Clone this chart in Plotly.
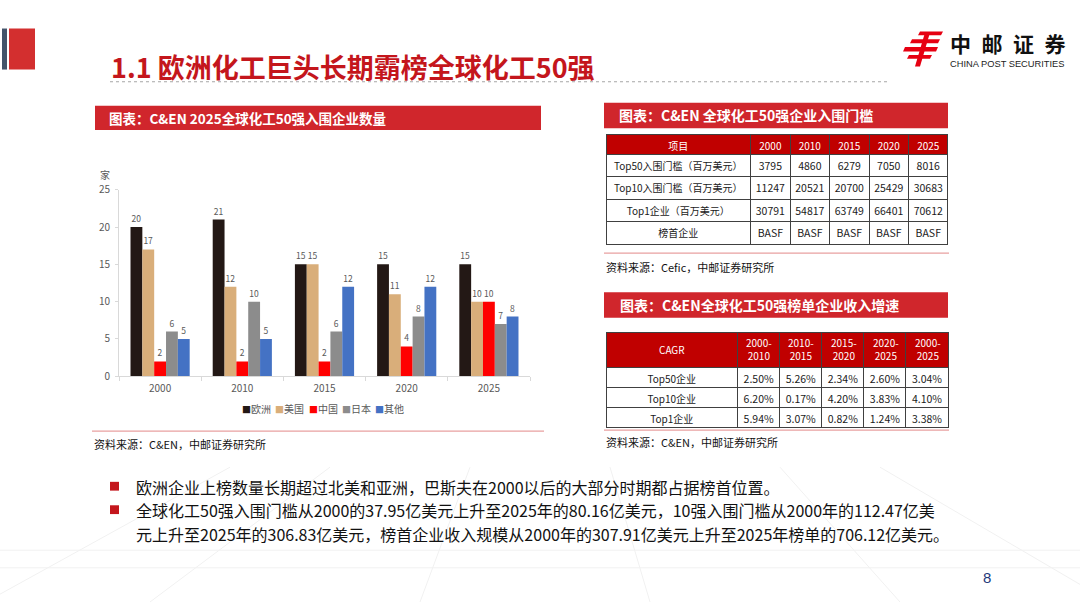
import plotly.graph_objects as go

W, H = 1080, 608
def px(x): return x / W
def py(y): return 1 - y / H

FONT = "Noto Sans CJK SC"

# ---------------- data ----------------
years = ["2000", "2010", "2015", "2020", "2025"]
regions = ["欧洲", "美国", "中国", "日本", "其他"]
europe = [20, 21, 15, 15, 15]
usa = [17, 12, 15, 11, 10]
china = [2, 2, 2, 4, 10]
japan = [6, 10, 6, 8, 7]
others = [5, 5, 12, 12, 8]
series_values = [europe, usa, china, japan, others]
series_colors = ["#231815", "#D9AE7A", "#FF0000", "#8C8C8C", "#4472C4"]

t1_header = ["项目", "2000", "2010", "2015", "2020", "2025"]
t1_items = ["Top50入围门槛（百万美元）", "Top10入围门槛（百万美元）", "Top1企业（百万美元）", "榜首企业"]
t1_2000 = ["3795", "11247", "30791", "BASF"]
t1_2010 = ["4860", "20521", "54817", "BASF"]
t1_2015 = ["6279", "20700", "63749", "BASF"]
t1_2020 = ["7050", "25429", "66401", "BASF"]
t1_2025 = ["8016", "30683", "70612", "BASF"]

t2_header = ["CAGR", "2000-<br>2010", "2010-<br>2015", "2015-<br>2020", "2020-<br>2025", "2000-<br>2025"]
t2_items = ["Top50企业", "Top10企业", "Top1企业"]
t2_p1 = ["2.50%", "6.20%", "5.94%"]
t2_p2 = ["5.26%", "0.17%", "3.07%"]
t2_p3 = ["2.34%", "4.20%", "0.82%"]
t2_p4 = ["2.60%", "3.83%", "1.24%"]
t2_p5 = ["3.04%", "4.10%", "3.38%"]

title = "1.1 欧洲化工巨头长期霸榜全球化工50强"
chart_title = "图表：C&EN 2025全球化工50强入围企业数量"
table1_title = "图表：C&EN 全球化工50强企业入围门槛"
table2_title = "图表：C&EN全球化工50强榜单企业收入增速"
src1 = "资料来源：C&EN，中邮证券研究所"
src2 = "资料来源：Cefic，中邮证券研究所"
bullets = [
    "欧洲企业上榜数量长期超过北美和亚洲，巴斯夫在2000以后的大部分时期都占据榜首位置。",
    "全球化工50强入围门槛从2000的37.95亿美元上升至2025年的80.16亿美元，10强入围门槛从2000年的112.47亿美",
    "元上升至2025年的306.83亿美元，榜首企业收入规模从2000年的307.91亿美元上升至2025年榜单的706.12亿美元。",
]

fig = go.Figure()

# ---------------- bar chart ----------------
for name, vals, col in zip(regions, series_values, series_colors):
    fig.add_trace(go.Bar(
        x=years, y=vals, name=name, marker=dict(color=col, line=dict(width=0)),
        text=[str(v) for v in vals], textposition="outside",
        textfont=dict(size=8.5, color="#595959", family=FONT),
        cliponaxis=False, showlegend=False, xaxis="x", yaxis="y",
    ))

fig.update_layout(
    barmode="group", bargap=0.28, bargroupgap=0,
    xaxis=dict(domain=[px(119), px(530)], type="category", showgrid=False,
               showline=True, linecolor="#D9D9D9", linewidth=1,
               ticks="outside", tickson="boundaries", ticklen=4, tickcolor="#D9D9D9",
               ticklabelstandoff=3,
               tickfont=dict(size=10, color="#595959", family=FONT), anchor="y"),
    yaxis=dict(domain=[py(377), py(186)], range=[0, 25], dtick=5, showgrid=False,
               showline=True, linecolor="#D9D9D9", linewidth=1,
               ticks="outside", ticklen=3, tickcolor="#D9D9D9", zeroline=False,
               ticklabelstandoff=3,
               tickfont=dict(size=10, color="#595959", family=FONT), anchor="x"),
)

# ---------------- tables ----------------
line_col = "#404040"
num_sizes = [10, 10.5, 10.5, 10.5, 10.5, 10.5]
fig.add_trace(go.Table(
    domain=dict(x=[px(606), px(949)], y=[py(258), py(129)]),
    columnwidth=[145, 39.6, 39.6, 39.6, 39.6, 39.6],
    header=dict(values=t1_header, fill_color="#C00000", height=20, align="center",
                line=dict(color=line_col, width=1),
                font=dict(color="white", size=10, family=FONT)),
    cells=dict(values=[t1_items, t1_2000, t1_2010, t1_2015, t1_2020, t1_2025],
               fill_color="white", height=22.5, align="center",
               line=dict(color=line_col, width=1),
               font=dict(color="#1a1a1a", size=num_sizes, family=FONT)),
))
t2_widths = [132, 42.2, 42.2, 42.2, 42.2, 42.2]
fig.add_trace(go.Table(
    domain=dict(x=[px(606), px(949)], y=[py(460), py(332)]),
    columnwidth=t2_widths,
    header=dict(values=[""] * len(t2_header), fill_color="#C00000", height=35, align="center",
                line=dict(color=line_col, width=1),
                font=dict(color="white", size=10, family=FONT)),
    cells=dict(values=[t2_items, t2_p1, t2_p2, t2_p3, t2_p4, t2_p5],
               fill_color="white", height=20, align="center",
               line=dict(color=line_col, width=1),
               font=dict(color="#1a1a1a", size=num_sizes, family=FONT)),
))

shapes = []
annotations = []

def rect(x0, y0, x1, y1, color):
    shapes.append(dict(type="rect", xref="paper", yref="paper",
                       x0=px(x0), x1=px(x1), y0=py(y1), y1=py(y0),
                       fillcolor=color, line=dict(width=0), layer="below"))

def hline(x0, x1, y, color, width=1, dash="solid"):
    shapes.append(dict(type="line", xref="paper", yref="paper",
                       x0=px(x0), x1=px(x1), y0=py(y), y1=py(y),
                       line=dict(color=color, width=width, dash=dash)))

def text(x, y, s, size, color="#000000", anchor="left", bold=False, family=FONT):
    annotations.append(dict(xref="paper", yref="paper", x=px(x), y=py(y),
                            text=("<b>%s</b>" % s) if bold else s, showarrow=False,
                            xanchor=anchor, yanchor="middle",
                            font=dict(size=size, color=color, family=family)))

# header labels of table 2 (two-line headers), centred in their columns
tot = sum(t2_widths)
cx = 606.0
for lab, wdt in zip(t2_header, t2_widths):
    w_px = wdt / tot * (949 - 606)
    text(cx + w_px / 2, 349.5, lab, 10, "white", anchor="center")
    cx += w_px

# background perspective grid (faint)
for (x0, y0, x1, y1) in [(0, 600, 230, 470), (150, 608, 330, 470), (420, 608, 470, 470),
                         (650, 608, 610, 470), (900, 608, 780, 470), (1080, 590, 880, 470),
                         (0, 555, 1080, 555), (0, 573, 1080, 573)]:
    shapes.append(dict(type="line", xref="paper", yref="paper",
                       x0=px(x0), x1=px(x1), y0=py(y0), y1=py(y1),
                       line=dict(color="#F1F1F1", width=1), layer="below"))

# left decoration
rect(2, 21, 7, 63, "#44546A")
rect(9, 21, 35, 63, "#D32F2F")

# title
text(109, 60, title, 27, "#C4161C", bold=True)
hline(110, 888, 75.5, "#A6A6A6", 1, "dot")

# logo emblem
red = "#E60012"
def para(x0, y0, x1, h, slant):
    return ("M {a} {b} L {c} {b} L {d} {e} L {f} {e} Z"
            .format(a=px(x0 + slant), b=py(y0), c=px(x1 + slant), d=px(x1), e=py(y0 + h), f=px(x0)))
for (x0, y0, x1, h) in [(918, 24, 941, 4), (910, 32, 938, 4), (903, 40, 936, 4.5), (907, 48, 930, 4)]:
    shapes.append(dict(type="path", xref="paper", yref="paper", path=para(x0, y0, x1, h, 2),
                       fillcolor=red, line=dict(width=0)))
shapes.append(dict(type="path", xref="paper", yref="paper",
                   path="M {} {} L {} {} L {} {} L {} {} Z".format(px(925), py(25), px(930), py(25),
                                                                  px(920), py(60), px(915), py(60)),
                   fillcolor=red, line=dict(width=0)))
text(948, 36, "中\u2002邮\u2002证\u2002券", 21, "#111111", bold=True)
text(948, 57.5, "CHINA POST SECURITIES", 9.3, "#222222", family="Liberation Sans")

# chart header
rect(95, 100, 541, 125, "#D0262C")
text(107, 112.5, chart_title, 13.5, "white", bold=True)
text(98, 170, "家", 10, "#595959")
# manual legend from series
leg_x = [240, 273, 307, 340, 373]
for lx, name, col in zip(leg_x, regions, series_colors):
    annotations.append(dict(xref="paper", yref="paper", x=px(lx), y=py(410),
                            text="<span style='color:%s;font-size:9px'>■</span>%s" % (col, name),
                            showarrow=False, xanchor="left", yanchor="middle",
                            font=dict(size=10, color="#595959", family=FONT)))
hline(92, 544, 433, "#E8A0A0", 1.2)
text(92, 446, src1, 11, "#111111")

# table 1 header
rect(604, 97, 948, 123, "#D0262C")
text(617, 110, table1_title, 14, "white", bold=True)
hline(604, 949, 251, "#E8A0A0", 1.2)
text(604, 265, src2, 11, "#111111")

# table 2 header
rect(604, 291, 948, 317, "#D0262C")
text(618, 304, table2_title, 14, "white", bold=True)
hline(604, 949, 432, "#E8A0A0", 1.2)
text(604, 444, src1, 11, "#111111")

# bullets
for yb in [490, 514]:
    rect(110, yb - 5, 119, yb + 4, "#C4161C")
for s, yy in zip(bullets, [490, 514, 538]):
    text(134, yy, s, 16, "#111111")

# page number
text(987, 583, "8", 15, "#1F3A7A", anchor="center", family="Liberation Sans")

fig.update_layout(
    width=W, height=H, margin=dict(l=0, r=0, t=0, b=0),
    paper_bgcolor="white", plot_bgcolor="white",
    shapes=shapes, annotations=annotations, showlegend=False,
    font=dict(family=FONT),
)

fig.write_html("out.html", config={"displayModeBar": False},
               post_script="document.body.style.margin='0';document.body.style.overflow='hidden';")
